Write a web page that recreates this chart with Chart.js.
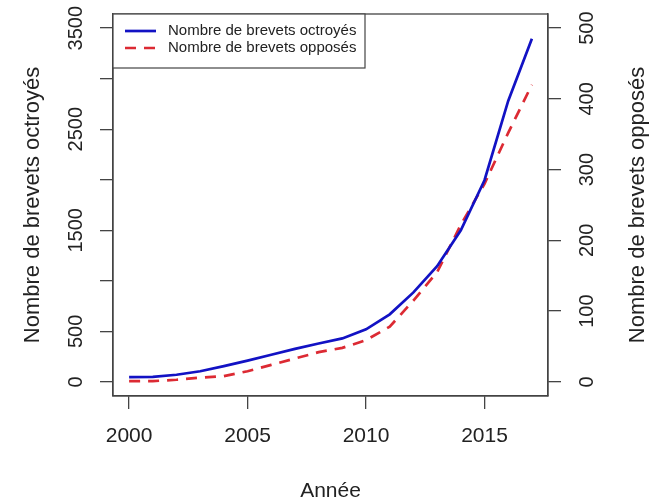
<!DOCTYPE html>
<html><head><meta charset="utf-8">
<script src="https://cdn.jsdelivr.net/npm/chart.js@4.4.1/dist/chart.umd.min.js"></script>
<style>html,body{margin:0;padding:0;background:#fff;overflow:hidden;}</style>
</head><body>
<canvas id="c" width="649" height="502"></canvas>
<script>
const years = [2000,2001,2002,2003,2004,2005,2006,2007,2008,2009,2010,2011,2012,2013,2014,2015,2016,2017];
const octroyes = [46,50,70,105,155,210,268,326,380,430,520,668,885,1145,1500,1995,2780,3395];
const opposes = [1,1,3,6,8,15,24,33,42,48,59,78,115,155,222,280,352,420];
const xTicks = [2000,2005,2010,2015];
const leftTicks = [0,500,1000,1500,2000,2500,3000,3500];
const leftLabels = ['0','500','','1500','','2500','','3500'];
const rightTicks = [0,100,200,300,400,500];
const rightLabels = ['0','100','200','300','400','500'];
const seriesNames = ['Nombre de brevets octroyés','Nombre de brevets opposés'];
const xTitle = 'Année';
const yTitle = 'Nombre de brevets octroyés';
const y1Title = 'Nombre de brevets opposés';

const FAM = '"Liberation Sans", Arial, Helvetica, sans-serif';
Chart.defaults.font.family = FAM;
const AX = '#444';
const BLUE = '#1212c4';
const RED = '#dc2a33';

const gridOpts = {display:true, drawOnChartArea:false, drawTicks:true, tickLength:13, color:AX, lineWidth:1.3};
const borderOpts = {display:true, color:AX, width:1.3};

const textPlugin = {
  id:'rtext',
  afterDraw(chart){
    const ctx = chart.ctx, ca = chart.chartArea;
    const ys = chart.scales.y, y1s = chart.scales.y1;
    ctx.save();
    // box
    ctx.strokeStyle = AX; ctx.lineWidth = 1.3;
    ctx.strokeRect(ca.left, ca.top, ca.right-ca.left, ca.bottom-ca.top);
    ctx.fillStyle = '#222';
    ctx.font = '20px ' + FAM;
    ctx.textAlign = 'center'; ctx.textBaseline = 'middle';
    leftTicks.forEach((v,i)=>{
      if(!leftLabels[i]) return;
      const py = ys.getPixelForValue(v);
      ctx.save(); ctx.translate(76, py); ctx.rotate(-Math.PI/2); ctx.fillText(leftLabels[i],0,0); ctx.restore();
    });
    rightTicks.forEach((v,i)=>{
      const py = y1s.getPixelForValue(v);
      ctx.save(); ctx.translate(587, py); ctx.rotate(-Math.PI/2); ctx.fillText(rightLabels[i],0,0); ctx.restore();
    });
    const midY = (ca.top+ca.bottom)/2;
    ctx.font = '22px ' + FAM;
    ctx.textBaseline = 'alphabetic';
    ctx.save(); ctx.translate(39, midY); ctx.rotate(-Math.PI/2); ctx.fillText(yTitle,0,0); ctx.restore();
    ctx.save(); ctx.translate(644, midY); ctx.rotate(-Math.PI/2); ctx.fillText(y1Title,0,0); ctx.restore();
    ctx.font = '21px ' + FAM;
    ctx.fillText(xTitle, (ca.left+ca.right)/2, 497);
    // legend
    const lx = ca.left, ly = ca.top, lw = 252, lh = 54;
    ctx.fillStyle = '#fff'; ctx.fillRect(lx, ly, lw, lh);
    ctx.strokeStyle = AX; ctx.lineWidth = 1.2; ctx.strokeRect(lx, ly, lw, lh);
    const ds = chart.data.datasets;
    ds.forEach((d,i)=>{
      const yy = ly + 17 + i*17;
      ctx.strokeStyle = d.borderColor; ctx.lineWidth = d.borderWidth;
      ctx.setLineDash(d.borderDash || []);
      ctx.beginPath(); ctx.moveTo(lx+12, yy); ctx.lineTo(lx+43, yy); ctx.stroke();
      ctx.setLineDash([]);
      ctx.fillStyle = '#222'; ctx.font = '15px ' + FAM;
      ctx.textAlign = 'left'; ctx.textBaseline = 'middle';
      ctx.fillText(d.label, lx+55, yy);
    });
    ctx.restore();
  }
};

new Chart(document.getElementById('c'), {
  type:'line',
  data:{
    datasets:[
      {label:seriesNames[0], data:years.map((y,i)=>({x:y, y:octroyes[i]})), yAxisID:'y',
       borderColor:BLUE, borderWidth:2.7, pointRadius:0, tension:0, fill:false},
      {label:seriesNames[1], data:years.map((y,i)=>({x:y, y:opposes[i]})), yAxisID:'y1',
       borderColor:RED, borderWidth:2.7, borderDash:[11,8], pointRadius:0, tension:0, fill:false}
    ]
  },
  options:{
    responsive:false, animation:false, devicePixelRatio:1,
    layout:{padding:{top:14, left:0, right:0, bottom:0}},
    plugins:{legend:{display:false}, tooltip:{enabled:false}},
    scales:{
      x:{type:'linear', position:'bottom', min:1999.32, max:2017.68,
         afterBuildTicks:s=>{s.ticks = xTicks.map(v=>({value:v}));},
         grid:gridOpts, border:borderOpts,
         ticks:{font:{size:21}, color:'#222', padding:15, maxRotation:0, autoSkip:false, callback:v=>String(v)},
         afterFit:s=>{s.height = 106;}},
      y:{type:'linear', position:'left', min:-140, max:3640,
         afterBuildTicks:s=>{s.ticks = leftTicks.map(v=>({value:v}));},
         grid:gridOpts, border:borderOpts, ticks:{display:false},
         afterFit:s=>{s.width = 113;}},
      y1:{type:'linear', position:'right', min:-20, max:520,
         afterBuildTicks:s=>{s.ticks = rightTicks.map(v=>({value:v}));},
         grid:gridOpts, border:borderOpts, ticks:{display:false},
         afterFit:s=>{s.width = 101;}}
    }
  },
  plugins:[textPlugin]
});
</script>
</body></html>
